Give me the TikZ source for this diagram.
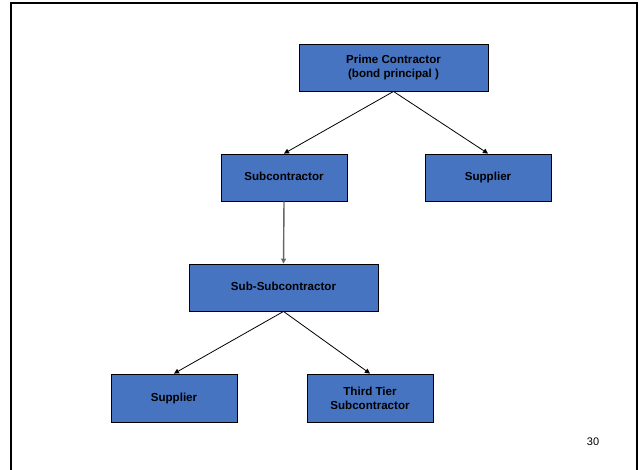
\documentclass[tikz,border=0pt]{standalone}
\usepackage{fontspec}
\setmainfont{Liberation Sans}
\usetikzlibrary{arrows.meta}
\definecolor{boxblue}{RGB}{70,116,193}
\tikzset{
  box/.style={draw=black, line width=0.9pt, fill=boxblue, rectangle, inner sep=0pt,
    align=center, font=\fontsize{11.6}{14}\selectfont\bfseries},
  oneline/.style={text height=8.4pt, text depth=2.4pt},
  conn/.style={line width=0.8pt, -{Triangle[length=5pt,width=5pt]}},
}
\begin{document}
\begin{tikzpicture}[x=1pt,y=-1pt]
\useasboundingbox (0,0) rectangle (639,469);
\draw[line width=2pt] (11,470) -- (11,3) -- (637,3) -- (637,470);
\node[box, minimum width=189pt, minimum height=47pt] (prime) at (393.5,67.5) {Prime Contractor\\(bond principal )};
\node[box, oneline, minimum width=126pt, minimum height=47pt] (sub) at (284,177.5) {Subcontractor};
\node[box, oneline, minimum width=126pt, minimum height=47pt] (sup1) at (488,177.5) {Supplier};
\node[box, oneline, minimum width=189pt, minimum height=47pt] (subsub) at (283.5,287.5) {Sub-Subcontractor};
\node[box, oneline, minimum width=126pt, minimum height=48pt] (sup2) at (174,398) {Supplier};
\node[box, minimum width=126pt, minimum height=48pt] (third) at (370,398) {Third Tier\\Subcontractor};
\node[font=\fontsize{11}{13}\selectfont] (page) at (593,442) {30};
\draw[conn] (prime.south) -- (sub.north);
\draw[conn] (prime.south) -- (sup1.north);
\draw[conn, draw=gray!80!black, line width=1.4pt] (sub.south) -- (subsub.north);
\draw[conn] (subsub.south) -- (sup2.north);
\draw[conn] (subsub.south) -- (third.north);
\end{tikzpicture}
\end{document}
